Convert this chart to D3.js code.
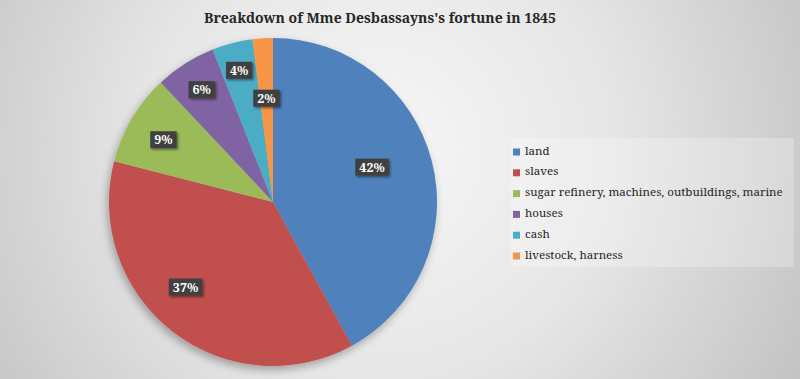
<!DOCTYPE html>
<html>
<head>
<meta charset="utf-8">
<script src="https://cdn.jsdelivr.net/npm/d3@7"></script>
<style>
  body { margin: 0; overflow: hidden; }
  svg { display: block; font-family: "Noto Serif", "Liberation Serif", serif; }
</style>
</head>
<body>
<svg id="chart"></svg>
<script>
// data
const categories = ['land', 'slaves', 'sugar refinery, machines, outbuildings, marine', 'houses', 'cash', 'livestock, harness'];
const shares = [42, 37, 9, 6, 4, 2];
const colors = ['#4F81BD', '#C0504D', '#9BBB59', '#8064A2', '#4BACC6', '#F79646'];
const title = "Breakdown of Mme Desbassayns's fortune in 1845";

// layout
const W = 800, H = 379;
const cx = 273, cy = 202, R = 164;
// Excel "best fit" puts the labels at different distances / angles
const labelRadius = [105, 122, 126, 133, 136, 104];
const labelShift = [-5, 8, -1, 0, 0, 0]; // degrees

const svg = d3.select('#chart').attr('width', W).attr('height', H);
const defs = svg.append('defs');

const bg = defs.append('radialGradient').attr('id', 'bg')
  .attr('gradientUnits', 'userSpaceOnUse')
  .attr('cx', 380).attr('cy', 150).attr('r', 520);
bg.append('stop').attr('offset', '0%').attr('stop-color', '#f7f7f7');
bg.append('stop').attr('offset', '45%').attr('stop-color', '#e6e6e6');
bg.append('stop').attr('offset', '100%').attr('stop-color', '#bdbdbd');

const pieShadow = defs.append('filter').attr('id', 'pieShadow')
  .attr('x', '-20%').attr('y', '-20%').attr('width', '140%').attr('height', '140%');
pieShadow.append('feDropShadow').attr('dx', -2).attr('dy', 4).attr('stdDeviation', 4)
  .attr('flood-color', '#000').attr('flood-opacity', 0.3);

const boxShadow = defs.append('filter').attr('id', 'boxShadow')
  .attr('x', '-30%').attr('y', '-30%').attr('width', '160%').attr('height', '160%');
boxShadow.append('feDropShadow').attr('dx', 1.5).attr('dy', 1.5).attr('stdDeviation', 1)
  .attr('flood-color', '#000').attr('flood-opacity', 0.45);

svg.append('rect').attr('width', W).attr('height', H).attr('fill', 'url(#bg)');

// fit a text to the width it takes in the picture
function fitWidth(sel, target) {
  const len = sel.node().getComputedTextLength();
  const fs = +sel.attr('font-size');
  sel.attr('font-size', (fs * target / len).toFixed(2));
}

const titleText = svg.append('text')
  .attr('x', 380).attr('y', 23)
  .attr('text-anchor', 'middle')
  .attr('font-size', 17).attr('font-weight', 'bold').attr('fill', '#262626')
  .text(title);
fitWidth(titleText, 352);

const data = categories.map((c, i) => ({
  name: c, value: shares[i], color: colors[i], lr: labelRadius[i], shift: labelShift[i]
}));
const pie = d3.pie().sort(null).value(d => d.value);
const arcs = pie(data);
const arc = d3.arc().innerRadius(0).outerRadius(R);

const g = svg.append('g').attr('transform', `translate(${cx},${cy})`);

g.append('g').attr('filter', 'url(#pieShadow)')
  .selectAll('path')
  .data(arcs)
  .join('path')
  .attr('d', arc)
  .attr('fill', d => d.data.color);

const labels = g.selectAll('g.lbl')
  .data(arcs)
  .join('g')
  .attr('class', 'lbl')
  .attr('transform', d => {
    const a = (d.startAngle + d.endAngle) / 2 + d.data.shift * Math.PI / 180;
    return `translate(${d3.pointRadial(a, d.data.lr)})`;
  });

labels.each(function (d) {
  const sel = d3.select(this);
  const txt = sel.append('text')
    .attr('text-anchor', 'middle').attr('dy', '0.36em')
    .attr('font-size', 12.5).attr('font-weight', 'bold').attr('fill', '#fff')
    .text(d.data.value + '%');
  const bb = txt.node().getBBox();
  sel.insert('rect', 'text')
    .attr('x', bb.x - 4).attr('y', bb.y)
    .attr('width', bb.width + 8).attr('height', bb.height)
    .attr('fill', '#404040')
    .attr('filter', 'url(#boxShadow)');
});

// legend
const legend = svg.append('g').attr('transform', 'translate(511,138)');
legend.append('rect').attr('width', 283).attr('height', 129)
  .attr('fill', '#ffffff').attr('fill-opacity', 0.25);

const rowY = d3.scaleBand().domain(categories).range([0, 129]).paddingOuter(0.1);

const items = legend.selectAll('g.item')
  .data(data)
  .join('g')
  .attr('class', 'item')
  .attr('transform', d => `translate(0,${rowY(d.name) + rowY.bandwidth() / 2})`);

items.append('rect')
  .attr('x', 2).attr('y', -2).attr('width', 7).attr('height', 7)
  .attr('fill', d => d.color);

const legendText = items.append('text')
  .attr('x', 14).attr('y', 0).attr('dy', '0.35em')
  .attr('font-size', 13).attr('fill', '#262626')
  .text(d => d.name);

// size the legend so that its longest entry ends where it does in the picture
const longest = legendText.filter((d, i) => i === 2);
const lsize = 13 * 258 / longest.node().getComputedTextLength();
legendText.attr('font-size', lsize.toFixed(2));
</script>
</body>
</html>
